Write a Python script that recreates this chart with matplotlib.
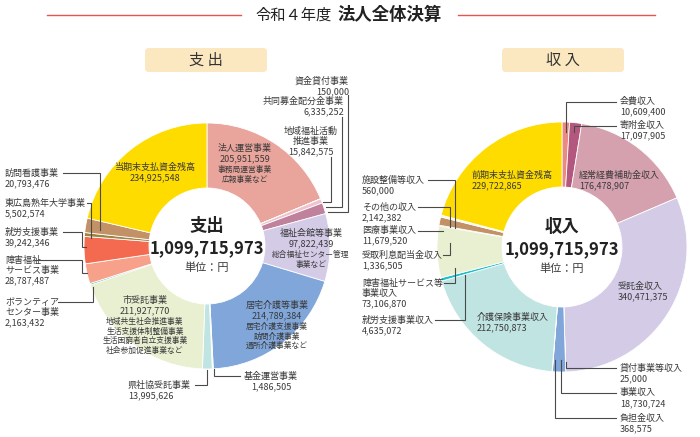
import matplotlib.pyplot as plt
from matplotlib.patches import FancyBboxPatch

plt.rcParams['font.family'] = ['Noto Sans CJK JP', 'DejaVu Sans']

W, H = 700, 437
TXT = '#3a3a3a'
LINE = '#4a4a4a'

# 支出 (clockwise from the top)
exp_labels = ['法人運営事業', '資金貸付事業', '共同募金配分金事業', '地域福祉活動\n推進事業',
              '福祉会館等事業', '居宅介護等事業', '基金運営事業', '県社協受託事業',
              '市受託事業', 'ボランティア\nセンター事業', '障害福祉\nサービス事業',
              '就労支援事業', '東広島熟年大学事業', '訪問看護事業', '当期末支払資金残高']
exp_values = [205951559, 150000, 6335252, 15842575, 97822439, 214789384, 1486505,
              13995626, 211927770, 2163432, 28787487, 39242346, 5502574, 20793476,
              234925548]
exp_colors = ['#e9a49c', '#f3d0d6', '#f0c4cf', '#c0819d', '#d4cbe7', '#80a6da', '#d9eef0',
              '#c0e4e2', '#e8f0d1', '#45b8a8', '#f7a08a', '#f46a50', '#9c8445', '#c29166',
              '#ffdc00']
exp_notes = {0: ['事務局運営事業', '広報事業など'],
             4: ['総合福祉センター管理', '事業など'],
             5: ['居宅介護支援事業', '訪問介護事業', '通所介護事業など'],
             8: ['地域共生社会推進事業', '生活支援体制整備事業', '生活困窮者自立支援事業',
                 '社会参加促進事業など']}

# 収入 (clockwise from the top)
inc_labels = ['会費収入', '寄附金収入', '経常経費補助金収入', '受託金収入', '貸付事業等収入',
              '事業収入', '負担金収入', '介護保険事業収入', '就労支援事業収入',
              '障害福祉サービス等\n事業収入', '受取利息配当金収入', '医療事業収入',
              'その他の収入', '施設整備等収入', '前期末支払資金残高']
inc_values = [10609400, 17097905, 176478907, 340471375, 25000, 18730724, 368575,
              212750873, 4635072, 73106870, 1336505, 11679520, 2142382, 560000,
              229722865]
inc_colors = ['#ea8a80', '#b4577e', '#d5a1ae', '#d4cbe7', '#c9d8ee', '#80a6da', '#d9eef0',
              '#c0e4e2', '#1fbfc8', '#e8f0d1', '#f07068', '#c29166', '#f6eedc', '#d8c3a0',
              '#ffdc00']

# label layout: index -> (x, y of first line, ha, leader polyline in pixels)
exp_layout = {
    0: (245, 148, 'center', None),
    1: (349, 81, 'right', [(348, 95), (348, 212), (328, 212)]),
    2: (344, 101, 'right', [(342, 117), (342, 207), (326, 207)]),
    3: (311, 131, 'center', [(331, 157), (331, 202), (323, 202)]),
    4: (311, 233, 'center', None),
    5: (277, 305, 'center', None),
    6: (271, 376, 'center', [(240, 376), (214, 376), (214, 369)]),
    7: (128, 385, 'left', [(195, 385), (207, 385), (207, 370)]),
    8: (145, 300, 'center', None),
    9: (5, 302, 'left', [(58, 302), (93, 302), (93, 287)]),
    10: (5, 260, 'left', [(35, 260), (82, 260), (82, 273), (87, 273)]),
    11: (5, 232, 'left', [(63, 232), (82, 232), (82, 247), (86, 247)]),
    12: (5, 203, 'left', [(87, 203), (91, 203), (91, 238)]),
    13: (5, 173, 'left', [(63, 173), (100, 173), (100, 230)]),
    14: (155, 167, 'center', None),
}
inc_layout = {
    0: (620, 101, 'left', [(616, 102), (566, 102), (566, 132)]),
    1: (620, 125, 'left', [(616, 126), (574, 126), (574, 132)]),
    2: (579, 175, 'left', None),
    3: (618, 286, 'left', None),
    4: (620, 368, 'left', [(616, 368), (566, 368), (566, 362)]),
    5: (620, 393, 'left', [(616, 393), (561, 393), (561, 360)]),
    6: (620, 418, 'left', [(616, 418), (555, 418), (555, 360)]),
    7: (477, 317, 'left', None),
    8: (362, 320, 'left', [(435, 320), (465, 320), (465, 275)]),
    9: (362, 283, 'left', [(444, 283), (455, 283), (455, 268)]),
    10: (362, 255, 'left', [(443, 255), (450, 255), (450, 243)]),
    11: (362, 230, 'left', [(418, 231), (443, 231)]),
    12: (362, 207, 'left', [(418, 207), (450, 207), (450, 227)]),
    13: (362, 180, 'left', [(428, 180), (455, 180), (455, 228)]),
    14: (472, 175, 'left', None),
}

fig = plt.figure(figsize=(W / 100, H / 100), dpi=100)
ax = fig.add_axes([0, 0, 1, 1])


def put(x, y, s, size=6.5, ha='left', weight='normal', color=TXT):
    ax.text(x, H - y, s, fontsize=size, ha=ha, va='center', color=color,
            fontweight=weight)


def leader(pts):
    ax.plot([p[0] for p in pts], [H - p[1] for p in pts], color=LINE, lw=0.8,
            solid_joinstyle='miter', zorder=5)


def donut(values, colors, cx, cy, r_out, r_in):
    ax.pie(values, colors=colors, startangle=90, counterclock=False, radius=r_out,
           center=(cx, H - cy),
           wedgeprops=dict(width=r_out - r_in, edgecolor='white', linewidth=0.6))
    put(cx, cy + 2, '{:,}'.format(sum(values)), size=12, ha='center', weight='bold',
        color='#222222')
    put(cx, cy + 22, '単位：円', size=8, ha='center')


def labels(names, values, layout, notes):
    for i, (x, y, ha, pts) in layout.items():
        lines = names[i].split('\n') + ['{:,}'.format(values[i])]
        for k, s in enumerate(lines):
            put(x, y + k * 10.5, s, ha=ha)
        for k, s in enumerate(notes.get(i, [])):
            put(x, y + len(lines) * 10.5 + 1 + k * 9.5, s, size=5.6, ha=ha)
        if pts:
            leader(pts)


# title and header boxes
put(332, 15, '令和４年度', size=11, ha='right', color='#222222')
put(337, 15, '法人全体決算', size=12.5, ha='left', weight='bold', color='#222222')
ax.plot([47, 241], [H - 15, H - 15], color='#e8534f', lw=1)
ax.plot([458, 655], [H - 15, H - 15], color='#e8534f', lw=1)

for x0, text in [(145, '支 出'), (502, '収 入')]:
    ax.add_patch(FancyBboxPatch((x0, H - 72), 122, 24,
                                boxstyle='round,pad=0,rounding_size=4',
                                fc='#fbe8c0', ec='none'))
    put(x0 + 61, 60, text, size=11, ha='center', color='#333333')

donut(exp_values, exp_colors, 207, 246, 123, 58)
put(207, 226, '支出', size=12.5, ha='center', weight='bold', color='#222222')
labels(exp_labels, exp_values, exp_layout, exp_notes)

donut(inc_values, inc_colors, 562, 247, 125, 60)
put(562, 227, '収入', size=12.5, ha='center', weight='bold', color='#222222')
labels(inc_labels, inc_values, inc_layout, {})

ax.set_xlim(0, W)
ax.set_ylim(0, H)
ax.set_aspect('equal')
ax.axis('off')

fig.savefig('out.png', dpi=100, facecolor='white')
